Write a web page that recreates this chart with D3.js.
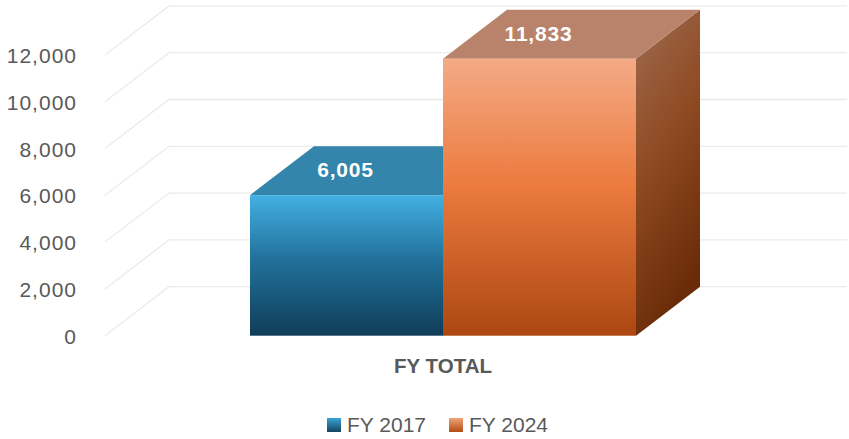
<!DOCTYPE html>
<html><head><meta charset="utf-8">
<script src="https://cdn.jsdelivr.net/npm/d3@7"></script>
<style>body{margin:0;background:#fff}svg{display:block;font-family:"Liberation Sans",Arial,sans-serif}</style>
</head><body><svg id="c" width="849" height="439"></svg>
<script>
const categories = ["FY TOTAL"];
const seriesNames = ["FY 2017", "FY 2024"];
const seriesValues = [[6005], [11833]];
const tickValues = [0, 2000, 4000, 6000, 8000, 10000, 12000];

const svg = d3.select("#c");
const dx = 64, dy = -49;
const y = d3.scaleLinear().domain([0, 12000]).range([335.7, 54.9]);
const x0 = d3.scaleBand().domain(categories).range([250, 636]).padding(0);
const x1 = d3.scaleBand().domain(seriesNames).range([0, x0.bandwidth()]);
const fmt = d3.format(",");

const defs = svg.append("defs");
function grad(id, stops, x2, y2) {
  const g = defs.append("linearGradient").attr("id", id).attr("x1", 0).attr("y1", 0).attr("x2", x2).attr("y2", y2);
  stops.forEach(s => g.append("stop").attr("offset", s[0]).attr("stop-color", s[1]));
}
grad("bFront", [[0, "#43b0e2"], [0.45, "#22729c"], [1, "#0f3d58"]], 0, 1);
grad("oFront", [[0, "#f4aa86"], [0.45, "#ec7b3f"], [1, "#ac4711"]], 0, 1);
grad("bSide", [[0, "#2a6f93"], [1, "#0b3147"]], 0.3, 1);
grad("oSide", [[0, "#9e6c52"], [0.5, "#8f4a22"], [1, "#6a2c08"]], 0.3, 1);
grad("bLeg", [[0, "#3aa4d6"], [1, "#124460"]], 0, 1);
grad("oLeg", [[0, "#f2a27a"], [1, "#b24c14"]], 0, 1);
const styles = [
  {front: "url(#bFront)", top: "#3385ac", side: "url(#bSide)", leg: "url(#bLeg)"},
  {front: "url(#oFront)", top: "#b8836a", side: "url(#oSide)", leg: "url(#oLeg)"}
];

// gridlines (3D)
const grid = svg.append("g");
tickValues.forEach(t => {
  const yy = y(t);
  grid.append("path")
    .attr("d", `M${105},${yy} L${105 + dx},${yy + dy} L847,${yy + dy}`)
    .attr("fill", "none").attr("stroke", "#ebebeb").attr("stroke-width", 1.3);
});

// y axis labels
const yAxis = d3.axisLeft(y).tickValues(tickValues).tickFormat(fmt).tickSize(0).tickPadding(0);
const ag = svg.append("g").attr("transform", "translate(77,0)").call(yAxis);
ag.select(".domain").remove();
ag.selectAll("text").attr("font-size", 21).attr("fill", "#595959").attr("letter-spacing", 1)
  .attr("font-family", '"Liberation Sans",Arial,sans-serif').attr("dy", "0.36em");

// bars
categories.forEach((cat, ci) => {
  seriesNames.forEach((s, si) => {
    const v = seriesValues[si][ci];
    const xl = x0(cat) + x1(s), xr = xl + x1.bandwidth();
    const yt = y(v), yb = y(0);
    const g = svg.append("g");
    g.append("path").attr("d", `M${xr},${yt} L${xr + dx},${yt + dy} L${xr + dx},${yb + dy} L${xr},${yb} Z`).attr("fill", styles[si].side);
    g.append("path").attr("d", `M${xl},${yt} L${xl + dx},${yt + dy} L${xr + dx},${yt + dy} L${xr},${yt} Z`).attr("fill", styles[si].top);
    g.append("rect").attr("x", xl).attr("y", yt).attr("width", xr - xl).attr("height", yb - yt).attr("fill", styles[si].front);
    g.append("text").attr("x", (xl + xr) / 2 - 1).attr("y", yt + dy / 2 + 6.5)
      .attr("text-anchor", "middle").attr("font-size", 21).attr("font-weight", "bold")
      .attr("letter-spacing", 0.8).attr("fill", "#ffffff").text(fmt(v));
  });
  svg.append("text").attr("x", x0(cat) + x0.bandwidth() / 2).attr("y", 373)
    .attr("text-anchor", "middle").attr("font-size", 20.5).attr("font-weight", "bold")
    .attr("fill", "#595959").text(cat);
});

// legend
const legX = [327, 449];
seriesNames.forEach((s, i) => {
  svg.append("rect").attr("x", legX[i]).attr("y", 418).attr("width", 14).attr("height", 14).attr("fill", styles[i].leg);
  svg.append("text").attr("x", legX[i] + 20).attr("y", 432).attr("font-size", 21).attr("fill", "#595959").text(s);
});
</script></body></html>
